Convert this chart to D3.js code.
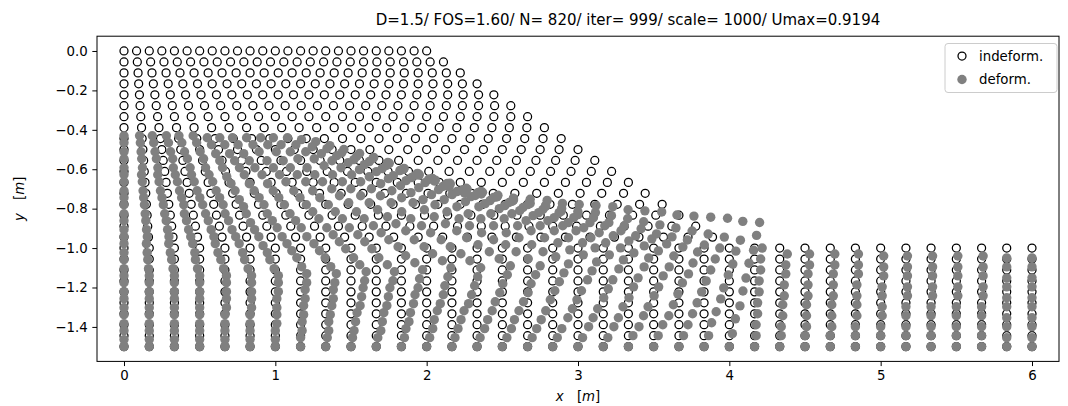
<!DOCTYPE html>
<html><head><meta charset="utf-8">
<script src="https://cdn.jsdelivr.net/npm/d3@7"></script>
<style>
body{margin:0;background:#fff}
svg{display:block}
text{font-family:"DejaVu Sans",sans-serif;fill:#000}
</style>
</head><body>
<svg id="chart" width="1068" height="406"></svg>
<script>
// ---------- texts ----------
const titleText = "D=1.5/ FOS=1.60/ N= 820/ iter= 999/ scale= 1000/ Umax=0.9194";
const legendLabels = ["indeform.", "deform."];
const xTicks = [0, 1, 2, 3, 4, 5, 6];
const yTicks = [0, -0.2, -0.4, -0.6, -0.8, -1.0, -1.2, -1.4];

// ---------- undeformed mesh: row elevations (m) ----------
const rowY = [0, -0.0556, -0.1111, -0.1667, -0.2222, -0.2778, -0.3333, -0.3889, -0.4444, -0.5,
  -0.5556, -0.6111, -0.6667, -0.7222, -0.7778, -0.8333, -0.8889, -0.9444,
  -1.0, -1.0556, -1.1111, -1.1667, -1.2222, -1.2778, -1.3333, -1.3889, -1.4444, -1.5];

// undeformed x of every node, per row (mm)
const toeRowX = [0,167,333,500,667,833,1000,1167,1333,1500,1667,1833,2000,2167,2333,2500,2667,2833,3000,3167,3333,3500,3667,3833,4000,4167,4333,4500,4667,4833,5000,5167,5333,5500,5667,5833,6000];
const rowX = [
  [0,83,167,250,333,417,500,583,667,750,833,917,1000,1083,1167,1250,1333,1417,1500,1583,1667,1750,1833,1917,2000],
  [0,88,176,264,352,440,528,616,704,792,880,968,1056,1144,1231,1319,1407,1495,1583,1671,1759,1847,1935,2023,2111],
  [0,93,185,278,370,463,556,648,741,833,926,1019,1111,1204,1296,1389,1481,1574,1667,1759,1852,1944,2037,2130,2222],
  [0,97,194,292,389,486,583,681,778,875,972,1069,1167,1264,1361,1458,1556,1653,1750,1847,1944,2042,2139,2236,2333],
  [0,102,204,306,407,509,611,713,815,917,1019,1120,1222,1324,1426,1528,1630,1731,1833,1935,2037,2139,2241,2343,2444],
  [0,106,213,319,426,532,639,745,852,958,1065,1171,1278,1384,1491,1597,1704,1810,1917,2023,2130,2236,2343,2449,2556],
  [0,111,222,333,444,556,667,778,889,1000,1111,1222,1333,1444,1556,1667,1778,1889,2000,2111,2222,2333,2444,2556,2667],
  [0,116,231,347,463,579,694,810,926,1042,1157,1273,1389,1505,1620,1736,1852,1968,2083,2199,2315,2431,2546,2662,2778],
  [0,120,241,361,481,602,722,843,963,1083,1204,1324,1444,1565,1685,1806,1926,2046,2167,2287,2407,2528,2648,2769,2889],
  [0,125,250,375,500,625,750,875,1000,1125,1250,1375,1500,1625,1750,1875,2000,2125,2250,2375,2500,2625,2750,2875,3000],
  [0,130,259,389,519,648,778,907,1037,1167,1296,1426,1556,1685,1815,1944,2074,2204,2333,2463,2593,2722,2852,2981,3111],
  [0,134,269,403,537,671,806,940,1074,1208,1343,1477,1611,1745,1880,2014,2148,2282,2417,2551,2685,2819,2954,3088,3222],
  [0,139,278,417,556,694,833,972,1111,1250,1389,1528,1667,1806,1944,2083,2222,2361,2500,2639,2778,2917,3056,3194,3333],
  [0,144,287,431,574,718,861,1005,1148,1292,1435,1579,1722,1866,2009,2153,2296,2440,2583,2727,2870,3014,3157,3301,3444],
  [0,148,296,444,593,741,889,1037,1185,1333,1481,1630,1778,1926,2074,2222,2370,2519,2667,2815,2963,3111,3259,3407,3556],
  [0,153,306,458,611,764,917,1069,1222,1375,1528,1681,1833,1986,2139,2292,2444,2597,2750,2903,3056,3208,3361,3514,3667],
  [0,157,315,472,630,787,944,1102,1259,1417,1574,1731,1889,2046,2204,2361,2519,2676,2833,2991,3148,3306,3463,3620,3778],
  [0,162,324,486,648,810,972,1134,1296,1458,1620,1782,1944,2106,2269,2431,2593,2755,2917,3079,3241,3403,3565,3727,3889],
  toeRowX, toeRowX, toeRowX, toeRowX, toeRowX, toeRowX, toeRowX, toeRowX, toeRowX, toeRowX
];

// scaled horizontal displacement per mesh column, top node to bottom node (cm)
const uxCols = [
  [0,0,0,0,0,0,0,0,0,0,0,0,0,0,0,0,0,0,0,0,0,0,0,0,0,0,0,0],
  [2,2,2,2,2,1,1,1,1,1,1,1,1,1,0,0,0,0,0,0,0,0,0,0,0,0,0,0],
  [2,2,2,2,2,1,1,1,1,1,1,1,1,1,0,0,0,0,0,0,0,0,0,0,0,0,0,0],
  [3,3,3,3,2,2,2,2,2,2,1,1,1,1,1,1,0,0,0,0,0,0,0,0,0,0,0,0],
  [3,3,3,3,3,2,2,2,2,2,2,2,2,2,1,1,1,1,1,1,1,1,1,0,0,0,0,0],
  [4,4,4,4,3,3,3,3,3,3,2,2,2,2,2,2,1,1,1,1,1,1,1,0,0,0,0,0],
  [5,5,5,5,4,4,4,4,4,4,3,3,3,3,3,3,2,2,2,2,2,1,1,1,1,0,0,0],
  [5,5,5,5,5,5,5,5,5,5,4,4,4,4,4,4,4,4,4,4,3,3,2,2,1,1,0,0],
  [5,5,5,5,5,6,6,6,6,6,6,6,6,6,7,7,7,7,7,6,5,5,4,3,2,2,1,0],
  [6,6,6,7,7,7,7,8,8,8,8,8,9,9,9,9,10,10,10,9,8,7,6,4,3,2,1,0],
  [7,7,8,8,8,8,9,9,9,10,10,10,10,11,11,11,11,12,12,11,9,8,7,5,4,3,1,0],
  [7,7,8,8,9,9,9,10,10,11,11,11,12,12,12,13,13,14,14,12,11,9,8,6,5,3,2,0],
  [8,8,9,9,10,10,11,11,12,12,12,13,13,14,14,15,15,16,16,14,12,11,9,7,5,4,2,0],
  [9,10,10,11,11,12,12,13,13,14,15,15,16,16,17,17,18,18,19,17,15,13,11,8,6,4,2,0],
  [10,11,11,12,13,13,14,15,15,16,17,17,18,19,19,20,21,21,22,20,17,15,12,10,7,5,2,0],
  [11,12,13,13,14,15,16,16,17,18,19,20,20,21,22,23,23,24,25,22,19,17,14,11,8,6,3,0],
  [12,13,14,15,15,16,17,18,19,20,20,21,22,23,24,25,25,26,27,24,21,18,15,12,9,6,3,0],
  [14,15,16,17,17,18,19,20,21,22,22,23,24,25,26,27,27,28,29,26,23,19,16,13,10,6,3,0],
  [15,16,17,18,18,19,20,21,22,23,23,24,25,26,27,28,28,29,30,27,23,20,17,13,10,7,3,0],
  [17,18,18,19,20,21,21,22,23,24,24,25,26,26,27,28,29,29,30,27,23,20,17,13,10,7,3,0],
  [18,19,19,20,21,21,22,23,23,24,25,25,26,27,27,28,29,29,30,27,23,20,17,13,10,7,3,0],
  [20,21,21,22,22,23,23,24,24,25,25,26,26,27,27,28,28,29,29,26,23,19,16,13,10,6,3,0],
  [22,22,23,23,23,23,24,24,24,25,25,25,25,26,26,26,26,27,27,24,21,18,15,12,9,6,3,0],
  [23,23,23,23,23,23,23,23,23,24,24,24,24,24,24,24,24,24,24,21,19,16,13,11,8,5,3,0],
  [25,25,24,24,24,24,23,23,23,23,22,22,22,21,21,21,21,20,20,18,16,13,11,9,7,4,2,0],
  [5,4,4,3,3,2,2,1,1,0],
  [5,4,4,3,3,2,2,1,1,0],
  [3,3,2,2,2,1,1,1,0,0],
  [3,3,2,2,2,1,1,1,0,0],
  [2,2,2,1,1,1,1,0,0,0],
  [2,2,2,1,1,1,1,0,0,0],
  [1,1,1,1,1,0,0,0,0,0],
  [1,1,1,1,1,0,0,0,0,0],
  [1,1,1,1,1,0,0,0,0,0],
  [1,1,1,1,1,0,0,0,0,0],
  [0,0,0,0,0,0,0,0,0,0],
  [0,0,0,0,0,0,0,0,0,0]
];

// scaled vertical displacement per mesh column, top node to bottom node (cm)
const uyCols = [
  [-43,-41,-40,-38,-37,-35,-33,-32,-30,-28,-27,-25,-24,-22,-20,-19,-17,-16,-14,-12,-11,-9,-8,-6,-5,-3,-2,0],
  [-43,-41,-40,-38,-37,-35,-33,-32,-30,-28,-27,-25,-24,-22,-20,-19,-17,-16,-14,-12,-11,-9,-8,-6,-5,-3,-2,0],
  [-43,-41,-40,-38,-37,-35,-33,-32,-30,-28,-27,-25,-24,-22,-20,-19,-17,-16,-14,-12,-11,-9,-8,-6,-5,-3,-2,0],
  [-43,-41,-40,-38,-37,-35,-33,-32,-30,-28,-27,-25,-24,-22,-20,-19,-17,-16,-14,-12,-11,-9,-8,-6,-5,-3,-2,0],
  [-43,-41,-40,-38,-37,-35,-33,-32,-30,-28,-27,-25,-24,-22,-20,-19,-17,-16,-14,-12,-11,-9,-8,-6,-5,-3,-2,0],
  [-43,-41,-40,-38,-37,-35,-33,-32,-30,-28,-27,-25,-24,-22,-20,-19,-17,-16,-14,-12,-11,-9,-8,-6,-5,-3,-2,0],
  [-44,-42,-41,-39,-37,-36,-34,-32,-31,-29,-27,-26,-24,-22,-21,-19,-17,-16,-14,-12,-11,-9,-8,-6,-5,-3,-2,0],
  [-44,-42,-41,-39,-37,-35,-34,-32,-30,-28,-27,-25,-23,-22,-20,-18,-16,-15,-13,-12,-10,-9,-7,-6,-4,-3,-1,0],
  [-44,-42,-41,-39,-37,-35,-34,-32,-30,-28,-27,-25,-23,-22,-20,-18,-16,-15,-13,-12,-10,-9,-7,-6,-4,-3,-1,0],
  [-44,-42,-40,-39,-37,-35,-33,-32,-30,-28,-26,-24,-23,-21,-19,-17,-16,-14,-12,-11,-9,-8,-7,-5,-4,-3,-1,0],
  [-44,-42,-40,-39,-37,-35,-33,-32,-30,-28,-26,-24,-23,-21,-19,-17,-16,-14,-12,-11,-9,-8,-7,-5,-4,-3,-1,0],
  [-44,-42,-40,-38,-37,-35,-33,-31,-29,-27,-26,-24,-22,-20,-18,-16,-15,-13,-11,-10,-9,-7,-6,-5,-4,-2,-1,0],
  [-44,-42,-40,-38,-36,-35,-33,-31,-29,-27,-25,-23,-21,-19,-18,-16,-14,-12,-10,-9,-8,-7,-6,-4,-3,-2,-1,0],
  [-45,-43,-41,-39,-37,-35,-33,-31,-29,-27,-26,-24,-22,-20,-18,-16,-14,-12,-10,-9,-8,-7,-6,-4,-3,-2,-1,0],
  [-46,-44,-42,-40,-38,-36,-34,-32,-30,-27,-25,-23,-21,-19,-17,-15,-13,-11,-9,-8,-7,-6,-5,-4,-3,-2,-1,0],
  [-48,-46,-44,-41,-39,-37,-35,-33,-31,-28,-26,-24,-22,-20,-18,-15,-13,-11,-9,-8,-7,-6,-5,-4,-3,-2,-1,0],
  [-50,-48,-45,-43,-41,-38,-36,-34,-31,-29,-27,-24,-22,-20,-17,-15,-13,-10,-8,-7,-6,-5,-4,-4,-3,-2,-1,0],
  [-52,-49,-47,-44,-42,-39,-37,-34,-32,-29,-27,-24,-22,-19,-17,-14,-12,-9,-7,-6,-5,-5,-4,-3,-2,-2,-1,0],
  [-54,-51,-49,-46,-43,-41,-38,-35,-33,-30,-27,-25,-22,-19,-17,-14,-11,-9,-6,-5,-5,-4,-3,-3,-2,-1,-1,0],
  [-57,-54,-51,-48,-45,-43,-40,-37,-34,-31,-28,-25,-22,-19,-17,-14,-11,-8,-5,-4,-4,-3,-3,-2,-2,-1,-1,0],
  [-60,-57,-54,-51,-48,-44,-41,-38,-35,-32,-29,-26,-23,-20,-16,-13,-10,-7,-4,-4,-3,-3,-2,-2,-1,-1,0,0],
  [-63,-60,-56,-53,-49,-46,-43,-39,-36,-32,-29,-26,-22,-19,-16,-12,-9,-5,-2,-2,-2,-1,-1,-1,-1,0,0,0],
  [-66,-62,-59,-55,-51,-48,-44,-40,-37,-33,-29,-26,-22,-18,-15,-11,-7,-4,0,0,0,0,0,0,0,0,0,0],
  [-69,-65,-61,-57,-53,-49,-45,-41,-37,-32,-28,-24,-20,-16,-12,-8,-4,0,4,4,3,3,2,2,1,1,0,0],
  [-72,-67,-63,-58,-53,-48,-44,-39,-34,-29,-25,-20,-15,-11,-6,-1,4,8,13,12,10,9,7,6,4,3,1,0],
  [0,0,0,0,0,0,0,0,0,0],
  [-3,-3,-2,-2,-2,-1,-1,-1,0,0],
  [-3,-3,-2,-2,-2,-1,-1,-1,0,0],
  [-3,-3,-2,-2,-2,-1,-1,-1,0,0],
  [-3,-3,-2,-2,-2,-1,-1,-1,0,0],
  [-4,-4,-3,-3,-2,-2,-1,-1,0,0],
  [-4,-4,-3,-3,-2,-2,-1,-1,0,0],
  [-4,-4,-3,-3,-2,-2,-1,-1,0,0],
  [-4,-4,-3,-3,-2,-2,-1,-1,0,0],
  [-4,-4,-3,-3,-2,-2,-1,-1,0,0],
  [-5,-4,-4,-3,-3,-2,-2,-1,-1,0],
  [-5,-4,-4,-3,-3,-2,-2,-1,-1,0]
];

// ---------- assemble node table from the arrays ----------
const nodes = [];
rowX.forEach((xs, j) => {
  xs.forEach((xmm, k) => {
    const first = rowY.length - uxCols[k].length;
    const i = j - first;
    nodes.push({
      x0: xmm / 1000, y0: rowY[j],
      x1: xmm / 1000 + uxCols[k][i] / 100,
      y1: rowY[j] + uyCols[k][i] / 100
    });
  });
});

// ---------- layout ----------
const svg = d3.select("#chart");
const L = 97, R = 1059, T = 36.2, B = 361.4;
const x = d3.scaleLinear().domain([-0.1784, 6.1784]).range([L, R]);
const y = d3.scaleLinear().domain([-1.575, 0.075]).range([B, T]);

const FS = 13.33;
const TL = 4.67;
const plot = svg.append("g");
plot.append("clipPath").attr("id", "clip").append("rect")
  .attr("x", L).attr("y", T).attr("width", R - L).attr("height", B - T);
const pts = plot.append("g").attr("clip-path", "url(#clip)");

pts.append("g").selectAll("circle").data(nodes).join("circle")
  .attr("cx", d => x(d.x0)).attr("cy", d => y(d.y0)).attr("r", 4)
  .attr("fill", "none").attr("stroke", "#000").attr("stroke-width", 1.25);

pts.append("g").selectAll("circle").data(nodes).join("circle")
  .attr("cx", d => x(d.x1)).attr("cy", d => y(d.y1)).attr("r", 4.7)
  .attr("fill", "#808080");

// axes
const xAxis = d3.axisBottom(x).tickValues(xTicks).tickFormat(d3.format("d"))
  .tickSize(TL).tickPadding(TL);
const yAxis = d3.axisLeft(y).tickValues(yTicks).tickFormat(d3.format(".1f"))
  .tickSize(TL).tickPadding(TL);
const gx = svg.append("g").attr("transform", `translate(0,${B})`).call(xAxis);
const gy = svg.append("g").attr("transform", `translate(${L},0)`).call(yAxis);
[gx, gy].forEach(g => {
  g.select(".domain").remove();
  g.selectAll(".tick line").attr("stroke", "#000").attr("stroke-width", 1);
  g.selectAll(".tick text").attr("font-family", "DejaVu Sans").attr("font-size", FS).attr("fill", "#000");
});

svg.append("rect").attr("x", L).attr("y", T).attr("width", R - L).attr("height", B - T)
  .attr("fill", "none").attr("stroke", "#000").attr("stroke-width", 1);

// title
svg.append("text").attr("x", 628).attr("y", 24.5).attr("text-anchor", "middle")
  .attr("font-size", 15).text(titleText);

// axis labels
const xl = svg.append("text").attr("x", (L + R) / 2).attr("y", 401).attr("text-anchor", "middle")
  .attr("font-size", FS);
xl.append("tspan").attr("font-style", "italic").text("x");
xl.append("tspan").text("\u2002\u2002[");
xl.append("tspan").attr("font-style", "italic").text("m");
xl.append("tspan").text("]");

const yl = svg.append("text").attr("transform", `translate(24,${(T + B) / 2}) rotate(-90)`)
  .attr("text-anchor", "middle").attr("font-size", FS);
yl.append("tspan").attr("font-style", "italic").text("y");
yl.append("tspan").text("\u2002\u2002[");
yl.append("tspan").attr("font-style", "italic").text("m");
yl.append("tspan").text("]");

// legend
const lg = svg.append("g");
lg.append("rect").attr("x", 945).attr("y", 43.5).attr("width", 112).attr("height", 49).attr("rx", 3)
  .attr("fill", "#fff").attr("fill-opacity", 0.8).attr("stroke", "#cccccc").attr("stroke-width", 1);
const legRows = [{y: 56, open: true}, {y: 79.5, open: false}];
legendLabels.forEach((lab, i) => {
  const r = legRows[i];
  if (r.open) {
    lg.append("circle").attr("cx", 962).attr("cy", r.y).attr("r", 4)
      .attr("fill", "none").attr("stroke", "#000").attr("stroke-width", 1.25);
  } else {
    lg.append("circle").attr("cx", 962).attr("cy", r.y).attr("r", 4.7).attr("fill", "#808080");
  }
  lg.append("text").attr("x", 979).attr("y", r.y).attr("dy", "0.35em").attr("font-size", FS).text(lab);
});
</script>
</body></html>
